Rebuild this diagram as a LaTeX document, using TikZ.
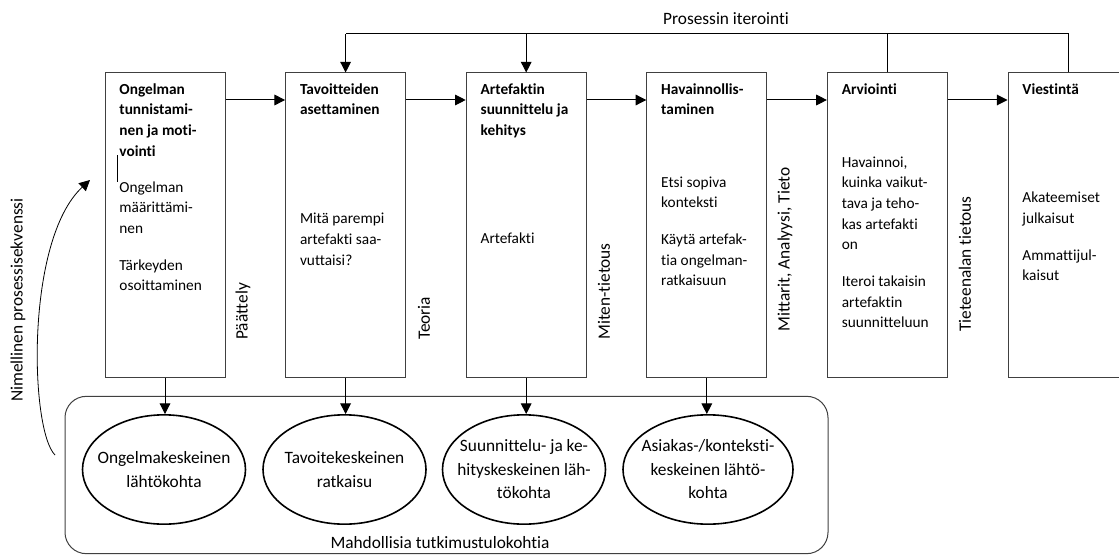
\documentclass[tikz,border=0pt]{standalone}
\usepackage{fontspec}
\setmainfont{Carlito}[Ligatures=CommonOff]
\usepackage{tikz}
\usetikzlibrary{arrows.meta,positioning,shapes.geometric}
\definecolor{frame}{HTML}{404040}
\newcommand{\stagebox}[5]{
  \node[stage] (#1) at (#2,225) {};
  \node[stagetitle,below right=8pt and 11pt of #1.north west] (#1-title) {#3};
  \node[stagetext,below right=#4 and 11pt of #1.north west] (#1-text) {#5};
}
\newcommand{\startspot}[4][122.25pt]{
  \node[spot,minimum width=#1] (#2) at (#3,469.5) {};
  \node[spottext] (#2-text) at (#2.center) {#4};
}

\begin{document}
\begin{tikzpicture}[x=0.75pt,y=-0.75pt,>={Triangle[length=8pt,width=8pt]},
  stage/.style={draw=frame,line width=0.75pt,minimum width=90pt,minimum height=228pt,inner sep=0pt},
  stagetitle/.style={anchor=north west,inner sep=0pt,align=left,font=\fontsize{11.5}{15.5}\selectfont\bfseries},
  stagetext/.style={anchor=north west,inner sep=0pt,align=left,font=\fontsize{11.5}{15.5}\selectfont},
  spot/.style={ellipse,draw,line width=1.2pt,minimum height=82pt,inner sep=0pt},
  spottext/.style={align=center,inner sep=0pt,font=\fontsize{13}{17.6}\selectfont},
  flowlabel/.style={rotate=90,anchor=west,inner sep=0pt,font=\fontsize{13}{16}\selectfont},
  plainlabel/.style={inner sep=0pt,font=\fontsize{13}{16}\selectfont},
  flow/.style={->,line width=0.75pt}]
  \clip (0,0) rectangle (1119,556);
  \coordinate (iterrow) at (0,34);
  \coordinate (flowrow) at (0,100);

  \stagebox{b1}{165}{Ongelman\\tunnistami-\\nen ja moti-\\vointi}{81.6pt}{Ongelman\\määrittämi-\\nen\\[12pt]Tärkeyden\\osoittaminen}
  \stagebox{b2}{345.6}{Tavoitteiden\\asettaminen}{105.4pt}{Mitä parempi\\artefakti saa-\\vuttaisi?}
  \stagebox{b3}{526.2}{Artefaktin\\suunnittelu ja\\kehitys}{120.4pt}{Artefakti}
  \stagebox{b4}{706.8}{Havainnollis-\\taminen}{77.9pt}{Etsi sopiva\\konteksti\\[12pt]Käytä artefak-\\tia ongelman-\\ratkaisuun}
  \stagebox{b5}{887.4}{Arviointi}{62.9pt}{Havainnoi,\\kuinka vaikut-\\tava ja teho-\\kas artefakti\\on\\[12pt]Iteroi takaisin\\artefaktin\\suunnitteluun}
  \stagebox{b6}{1068}{Viestintä}{89.6pt}{Akateemiset\\julkaisut\\[12pt]Ammattijul-\\kaisut}

  \draw[line width=0.5pt] (117.5,155) -- (117.5,182);

  \draw[flow] (b1.east |- flowrow) -- (b2.west |- flowrow);
  \draw[flow] (b2.east |- flowrow) -- (b3.west |- flowrow);
  \draw[flow] (b3.east |- flowrow) -- (b4.west |- flowrow);
  \draw[flow] (b4.east |- flowrow) -- (b5.west |- flowrow);
  \draw[flow] (b5.east |- flowrow) -- (b6.west |- flowrow);

  \draw[line width=0.75pt] (b6.north) -- (b6.north |- iterrow) -- (b2.north |- iterrow);
  \draw[line width=0.75pt] (b5.north) -- (b5.north |- iterrow);
  \draw[flow] (b2.north |- iterrow) -- (b2.north);
  \draw[flow] (b3.north |- iterrow) -- (b3.north);
  \node[plainlabel] (iterlabel) at (726,19) {Prosessin iterointi};

  \node[flowlabel] (l1) at (243,340) {Päättely};
  \node[flowlabel] (l2) at (424,340) {Teoria};
  \node[flowlabel] (l3) at (604,340) {Miten-tietous};
  \node[flowlabel] (l4) at (785,332) {Mittarit, Analyysi, Tieto};
  \node[flowlabel] (l5) at (965,332) {Tieteenalan tietous};

  \node[draw=frame,line width=0.75pt,rounded corners=16pt,minimum width=572.25pt,minimum height=118pt] (zone) at (446.5,475) {};
  \node[plainlabel] (zonelabel) at (440,543) {Mahdollisia tutkimustulokohtia};

  \startspot{e1}{164}{Ongelmakeskeinen\\lähtökohta}
  \startspot{e2}{344.5}{Tavoitekeskeinen\\ratkaisu}
  \startspot{e3}{524}{Suunnittelu- ja ke-\\hityskeskeinen läh-\\tökohta}
  \startspot[127.5pt]{e4}{708}{Asiakas-/konteksti-\\keskeinen lähtö-\\kohta}

  \draw[flow] (b1.south) -- (b1.south |- e1.north);
  \draw[flow] (b2.south) -- (b2.south |- e2.north);
  \draw[flow] (b3.south) -- (b3.south |- e3.north);
  \draw[flow] (b4.south) -- (b4.south |- e4.north);

  \coordinate (seqstart) at (55,455);
  \coordinate (seqend) at (90,180);
  \draw[flow,line width=0.6pt] (seqstart) .. controls (30,430) and (25,240) .. (seqend);
  \node[plainlabel,rotate=90] (seqlabel) at (18,300) {Nimellinen prosessisekvenssi};
\end{tikzpicture}
\end{document}
